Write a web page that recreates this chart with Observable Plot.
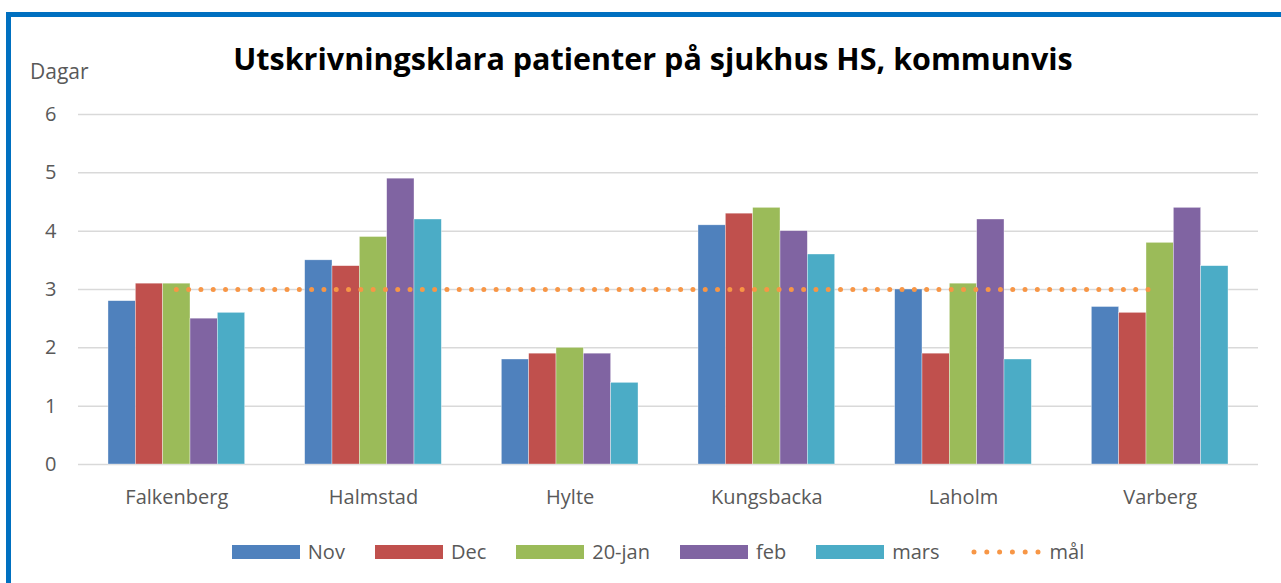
<!DOCTYPE html>
<html><head><meta charset="utf-8">
<script src="https://cdn.jsdelivr.net/npm/d3@7"></script>
<script src="https://cdn.jsdelivr.net/npm/@observablehq/plot@0.6"></script>
<style>
html,body{margin:0;padding:0;background:#fff;}
body{width:1281px;height:583px;overflow:hidden;position:relative;font-family:"Open Sans",sans-serif;color:#595959;}
#frame{position:absolute;left:6px;top:12px;width:1400px;height:700px;border-left:5px solid #0070C0;border-top:5px solid #0070C0;box-sizing:border-box;}
#title{position:absolute;left:0;width:1306px;top:40px;text-align:center;font-weight:700;font-size:26px;line-height:36px;color:#000;white-space:nowrap;}
#ylabel{position:absolute;left:30px;top:60px;font-size:21px;line-height:22px;}
#chart{position:absolute;left:0;top:100px;}
#legend{position:absolute;left:0;width:1316px;top:540px;display:flex;justify-content:center;align-items:center;font-size:20px;line-height:24px;}
.item{display:flex;align-items:center;margin:0 15px;}
.sw{width:68px;height:14px;margin-right:8px;}
</style></head>
<body>
<div id="frame"></div>
<div id="title">Utskrivningsklara patienter på sjukhus HS, kommunvis</div>
<div id="ylabel">Dagar</div>
<div id="chart"></div>
<div id="legend"></div>
<script>
const kommuner = ["Falkenberg","Halmstad","Hylte","Kungsbacka","Laholm","Varberg"];
const serier = ["Nov","Dec","20-jan","feb","mars"];
const nov   = [2.8, 3.5, 1.8, 4.1, 3.0, 2.7];
const dec   = [3.1, 3.4, 1.9, 4.3, 1.9, 2.6];
const jan20 = [3.1, 3.9, 2.0, 4.4, 3.1, 3.8];
const feb   = [2.5, 4.9, 1.9, 4.0, 4.2, 4.4];
const mars  = [2.6, 4.2, 1.4, 3.6, 1.8, 3.4];
const mal = 3;
const malLabel = "mål";
const yTicks = [0, 1, 2, 3, 4, 5, 6];
const farger = ["#4F81BD", "#C0504D", "#9BBB59", "#8064A2", "#4BACC6"];
const malFarg = "#F79646";

const values = [nov, dec, jan20, feb, mars];
const rows = [];
serier.forEach((s, j) => kommuner.forEach((k, i) => rows.push({kommun: k, i, serie: s, j, value: values[j][i]})));

const G = 0.695;            // group share of each category band
const B = G / serier.length; // one bar's share

const plot = Plot.plot({
  width: 1281,
  height: 420,
  marginLeft: 78,
  marginRight: 23,
  marginTop: 14,
  marginBottom: 56,
  style: {color: "#595959", fontFamily: "'Open Sans', sans-serif", background: "transparent"},
  x: {type: "linear", domain: [-0.5, kommuner.length - 0.5]},
  y: {domain: [0, 6]},
  color: {domain: serier, range: farger},
  marks: [
    Plot.ruleY(yTicks, {stroke: "#D9D9D9", strokeWidth: 1.5}),
    Plot.rectY(rows, {
      x1: d => d.i - G / 2 + d.j * B,
      x2: d => d.i - G / 2 + (d.j + 1) * B,
      y1: 0, y2: "value", fill: "serie",
      stroke: "#fff", strokeWidth: 0.6, strokeOpacity: 0.6
    }),
    Plot.ruleY([mal], {x1: 0, x2: kommuner.length - 1, stroke: malFarg, strokeWidth: 5, strokeDasharray: "0 12.3", strokeLinecap: "round"}),
    Plot.axisY(yTicks, {tickSize: 0, tickPadding: 22, fontSize: 20, label: null, tickFormat: d3.format("d")}),
    Plot.axisX(d3.range(kommuner.length), {tickSize: 0, tickPadding: 25, fontSize: 20, label: null, tickFormat: i => kommuner[i]})
  ]
});
document.getElementById("chart").appendChild(plot);

const legend = document.getElementById("legend");
serier.forEach((s, j) => {
  const it = document.createElement("div");
  it.className = "item";
  it.innerHTML = `<div class="sw" style="background:${farger[j]}"></div><span>${s}</span>`;
  legend.appendChild(it);
});
const it = document.createElement("div");
it.className = "item";
it.innerHTML = `<svg width="72" height="14" style="margin-right:8px"><line x1="4" x2="68" y1="7" y2="7" stroke="${malFarg}" stroke-width="5" stroke-linecap="round" stroke-dasharray="0 12.8"/></svg><span>${malLabel}</span>`;
legend.appendChild(it);

// fit title width to the reference's span (~840px)
const t = document.getElementById("title");
const span = document.createElement("span");
span.textContent = t.textContent; t.textContent = ""; t.appendChild(span);
const w = span.getBoundingClientRect().width;
t.style.fontSize = (26 * 840 / w) + "px";
</script>
</body></html>
